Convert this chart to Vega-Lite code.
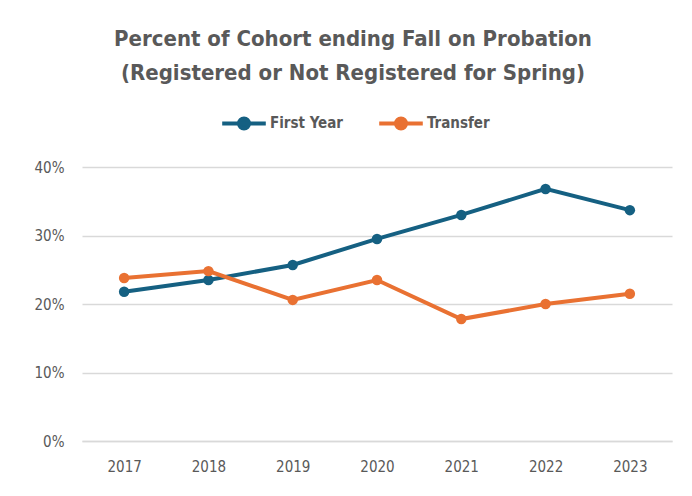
{
  "$schema": "https://vega.github.io/schema/vega-lite/v6.json",
  "width": 590,
  "height": 274,
  "padding": {"left": 34, "top": 28, "right": 10, "bottom": 5},
  "background": "white",
  "title": {
    "text": ["Percent of Cohort ending Fall on Probation", "(Registered or Not Registered for Spring)"],
    "font": "Liberation Sans Narrow, DejaVu Sans Condensed, sans-serif",
    "fontSize": 22,
    "fontWeight": "bold",
    "color": "#595959",
    "lineHeight": 34,
    "anchor": "middle",
    "frame": "bounds",
    "offset": 14
  },
  "data": {
    "values": [
      {"year": "2017", "series": "First Year", "value": 0.218},
      {"year": "2018", "series": "First Year", "value": 0.235},
      {"year": "2019", "series": "First Year", "value": 0.257},
      {"year": "2020", "series": "First Year", "value": 0.295},
      {"year": "2021", "series": "First Year", "value": 0.330},
      {"year": "2022", "series": "First Year", "value": 0.368},
      {"year": "2023", "series": "First Year", "value": 0.337},
      {"year": "2017", "series": "Transfer", "value": 0.238},
      {"year": "2018", "series": "Transfer", "value": 0.248},
      {"year": "2019", "series": "Transfer", "value": 0.206},
      {"year": "2020", "series": "Transfer", "value": 0.235},
      {"year": "2021", "series": "Transfer", "value": 0.178},
      {"year": "2022", "series": "Transfer", "value": 0.200},
      {"year": "2023", "series": "Transfer", "value": 0.215}
    ]
  },
  "mark": {"type": "line", "strokeWidth": 4, "point": {"size": 110, "filled": true, "opacity": 1}},
  "encoding": {
    "x": {
      "field": "year",
      "type": "ordinal",
      "scale": {"paddingInner": 0, "paddingOuter": 0.5},
      "axis": {
        "title": null,
        "labelAngle": 0,
        "ticks": false,
        "domain": true,
        "domainColor": "#d9d9d9",
        "domainWidth": 1.5,
        "labelPadding": 18,
        "labelFontSize": 15,
        "labelColor": "#595959",
        "labelFont": "Liberation Sans Narrow, DejaVu Sans Condensed, sans-serif"
      }
    },
    "y": {
      "field": "value",
      "type": "quantitative",
      "scale": {"domain": [0, 0.4]},
      "axis": {
        "title": null,
        "format": ".0%",
        "values": [0, 0.1, 0.2, 0.3, 0.4],
        "ticks": false,
        "domain": false,
        "gridColor": "#d9d9d9",
        "gridWidth": 1.5,
        "labelPadding": 18,
        "labelFontSize": 15,
        "labelColor": "#595959",
        "labelFont": "Liberation Sans Narrow, DejaVu Sans Condensed, sans-serif"
      }
    },
    "color": {
      "field": "series",
      "type": "nominal",
      "scale": {"domain": ["First Year", "Transfer"], "range": ["#156082", "#E97132"]},
      "legend": {
        "title": null,
        "orient": "none",
        "legendX": 138,
        "legendY": -68,
        "direction": "horizontal",
        "symbolType": "M-1,0L1,0M-0.23,0a0.23,0.23 0 1,0 0.46,0a0.23,0.23 0 1,0 -0.46,0",
        "symbolSize": 1900,
        "symbolStrokeWidth": 4,
        "labelFontSize": 15,
        "labelFontWeight": "bold",
        "labelColor": "#595959",
        "labelFont": "Liberation Sans Narrow, DejaVu Sans Condensed, sans-serif",
        "labelOffset": 2,
        "columnPadding": 28,
        "encode": {
          "symbols": {"update": {"fill": {"scale": "color", "field": "value"}}}
        }
      }
    }
  },
  "config": {
    "view": {"stroke": null}
  }
}
